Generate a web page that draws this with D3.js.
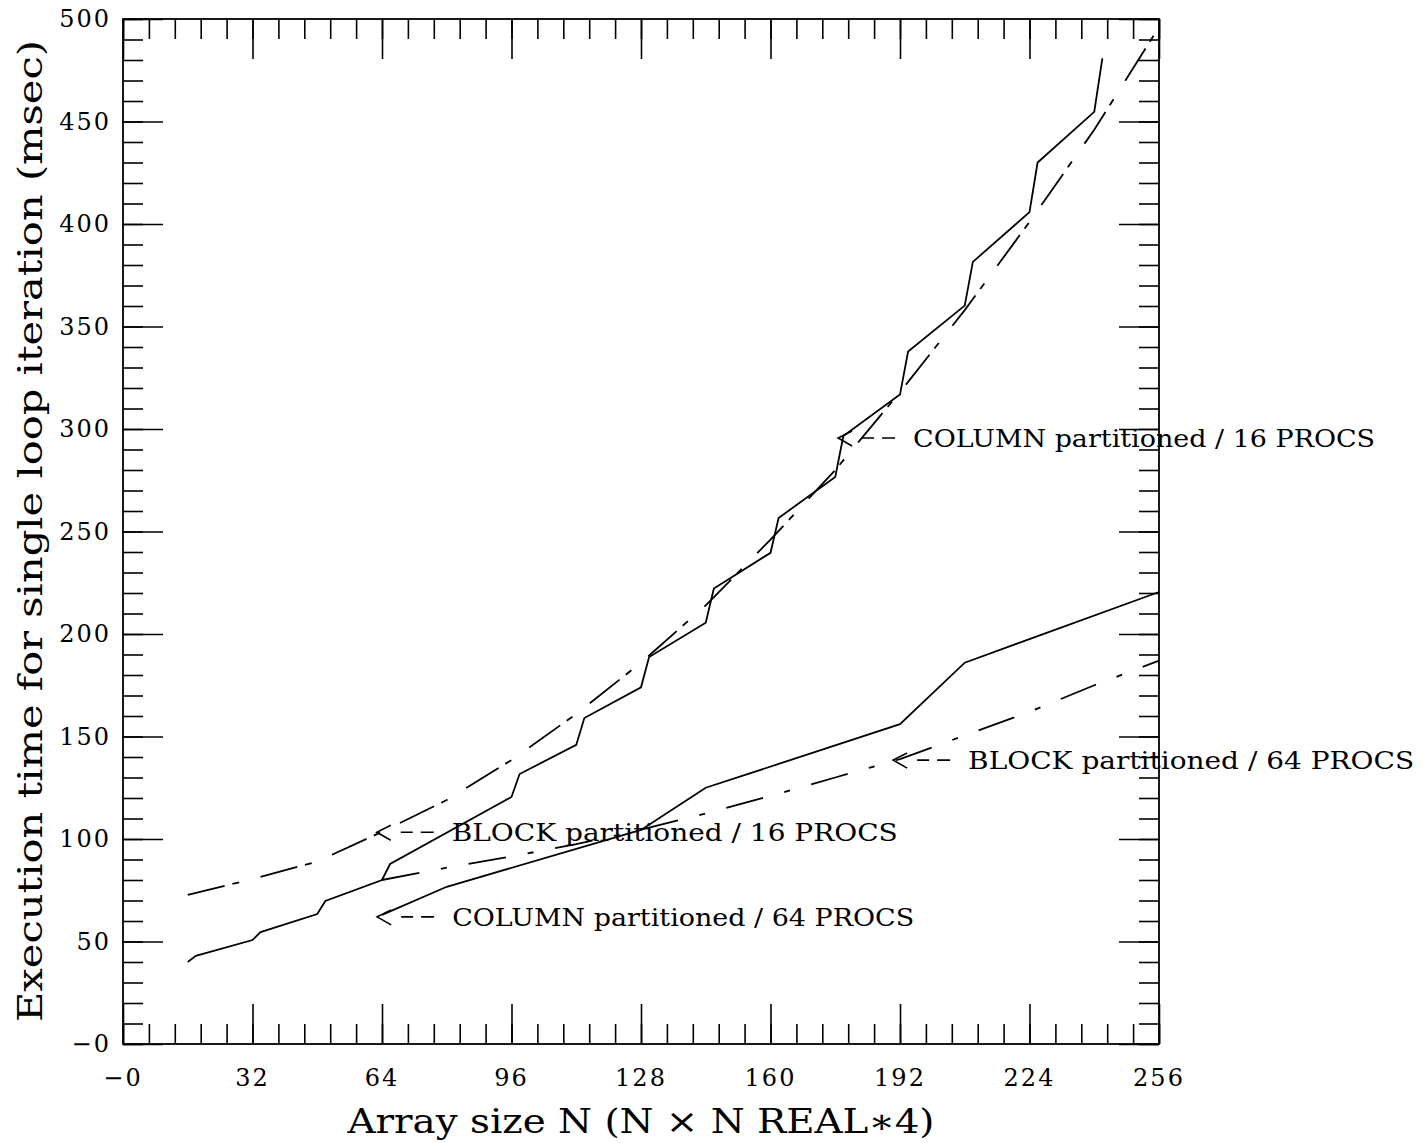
<!DOCTYPE html>
<html>
<head>
<meta charset="utf-8">
<script src="https://cdn.jsdelivr.net/npm/d3@7"></script>
<style>
  body { margin: 0; background: #fff; }
  svg text { font-family: "DejaVu Serif", serif; fill: #000; }
</style>
</head>
<body>
<svg id="chart" width="1427" height="1143"></svg>
<script>
// data: array size N, time in msec
var col16_n = [16, 18, 32, 34, 48, 50, 64, 66, 96, 98, 112, 114, 128, 130, 144, 146, 160, 162, 176, 178, 192, 194, 208, 210, 224, 226, 240, 242];
var col16_t = [40, 43, 50.7, 54.6, 63.4, 69.8, 80, 87.8, 120.5, 131.7, 145.9, 159, 174, 188.8, 205.5, 222.2, 239.6, 256.6, 276.6, 296.6, 316.8, 337.8, 360.2, 381.5, 405.8, 430, 454.7, 480.8];

var blk16_n = [16, 32, 48, 64, 80, 96, 112, 128, 144, 160, 176, 192, 208, 224, 240, 256];
var blk16_t = [72.7, 80.5, 89, 103.5, 119, 138.5, 161, 186, 214, 246, 280, 318, 358, 401, 446, 496];

var col64_n = [64, 80, 128, 144, 192, 208, 256];
var col64_t = [63, 76.7, 104.4, 125, 156, 186, 220.5];

var blk64_n = [64, 80, 96, 112, 128, 144, 160, 176, 192, 208, 224, 240, 256];
var blk64_t = [80, 86, 91.5, 97.5, 104.5, 112.5, 121, 130, 139, 150.5, 162, 175, 187];

// labels with the point each arrow touches
var notes = ["COLUMN partitioned / 16 PROCS", "BLOCK partitioned / 64 PROCS", "BLOCK partitioned / 16 PROCS", "COLUMN partitioned / 64 PROCS"];
var notes_n = [176.7, 190.3, 62.7, 62.8];
var notes_t = [295.6, 138.5, 103.3, 62];

var x_ticks = [0, 32, 64, 96, 128, 160, 192, 224, 256];
var x_tick_labels = ["\u22120", "32", "64", "96", "128", "160", "192", "224", "256"];
var y_ticks = [0, 50, 100, 150, 200, 250, 300, 350, 400, 450, 500];
var y_tick_labels = ["\u22120", "50", "100", "150", "200", "250", "300", "350", "400", "450", "500"];

var pad_left = 123, pad_top = 19, w = 1036, h = 1025;

var svg = d3.select("#chart");
var g = svg.append("g").attr("transform", "translate(" + pad_left + "," + pad_top + ")");

var x = d3.scaleLinear().domain([0, 256]).range([0, w]);
var y = d3.scaleLinear().domain([0, 500]).range([h, 0]);

// tick marks on all four sides, pointing in
var x_minor = d3.range(0, 256.01, 6.4);
var y_minor = d3.range(0, 500.01, 10);

function ticks_on (axis, scale, vals, len, tr) {
  var a = g.append("g")
           .attr("transform", tr)
           .call(axis(scale).tickValues(vals).tickSize(len).tickFormat(""));
  a.select(".domain").remove();
  a.selectAll("line").attr("stroke", "#000").attr("stroke-width", 1.6);
}
ticks_on(d3.axisBottom, x, x_minor, -20, "translate(0," + h + ")");
ticks_on(d3.axisBottom, x, x_ticks, -40, "translate(0," + h + ")");
ticks_on(d3.axisTop, x, x_minor, -20, "translate(0,0)");
ticks_on(d3.axisTop, x, x_ticks, -40, "translate(0,0)");
ticks_on(d3.axisLeft, y, y_minor, -20, "translate(0,0)");
ticks_on(d3.axisLeft, y, y_ticks, -40, "translate(0,0)");
ticks_on(d3.axisRight, y, y_minor, -20, "translate(" + w + ",0)");
ticks_on(d3.axisRight, y, y_ticks, -40, "translate(" + w + ",0)");

g.append("rect")
 .attr("width", w).attr("height", h)
 .attr("fill", "none").attr("stroke", "#000").attr("stroke-width", 1.8);

// tick labels
g.selectAll(".xl").data(x_ticks).enter().append("text")
 .attr("x", function (d) { return x(d); })
 .attr("y", h + 42)
 .attr("text-anchor", "middle")
 .style("font-size", "24px")
 .style("letter-spacing", "2px")
 .text(function (d, i) { return x_tick_labels[i]; });

g.selectAll(".yl").data(y_ticks).enter().append("text")
 .attr("x", -12)
 .attr("y", function (d) { return y(d) + 8; })
 .attr("text-anchor", "end")
 .style("font-size", "24px")
 .style("letter-spacing", "2px")
 .text(function (d, i) { return y_tick_labels[i]; });

// axis titles
svg.append("text")
   .attr("x", pad_left + w / 2).attr("y", 1133)
   .attr("text-anchor", "middle")
   .attr("textLength", 587).attr("lengthAdjust", "spacingAndGlyphs")
   .style("font-size", "34px")
   .text("Array size N (N \u00d7 N REAL\u22174)");

svg.append("text")
   .attr("transform", "translate(42,531) rotate(-90)")
   .attr("text-anchor", "middle")
   .attr("textLength", 982).attr("lengthAdjust", "spacingAndGlyphs")
   .style("font-size", "34px")
   .text("Execution time for single loop iteration (msec)");

// curves
function pts (ns, ts) {
  return ns.map(function (n, i) { return [n, ts[i]]; });
}
var line = d3.line()
  .x(function (d) { return x(d[0]); })
  .y(function (d) { return y(d[1]); });

function draw_series (data, dash) {
  var p = g.append("path")
           .attr("d", line(data))
           .attr("fill", "none")
           .attr("stroke", "#000")
           .attr("stroke-width", 1.8);
  if (dash) {
    p.attr("stroke-dasharray", dash);
  }
}
draw_series(pts(col16_n, col16_t));
draw_series(pts(col64_n, col64_t));
draw_series(pts(blk16_n, blk16_t), "38,8,7,22");
draw_series(pts(blk64_n, blk64_t), "38,22,6,22");

// arrow labels: "<--" then text
notes.forEach(function (txt, i) {
  var ax = x(notes_n[i]), ay = y(notes_t[i]);
  var a = g.append("g").attr("transform", "translate(" + ax + "," + ay + ")");
  a.append("path")
   .attr("d", "M14,-7 L0,0 L14,8 M24,0 L36,0 M44,0 L57,0")
   .attr("fill", "none").attr("stroke", "#000").attr("stroke-width", 1.6);
  a.append("text")
   .attr("x", 75).attr("y", 9)
   .attr("textLength", txt.length * 16 - 2).attr("lengthAdjust", "spacingAndGlyphs")
   .style("font-size", "25px")
   .text(txt);
});
</script>
</body>
</html>
